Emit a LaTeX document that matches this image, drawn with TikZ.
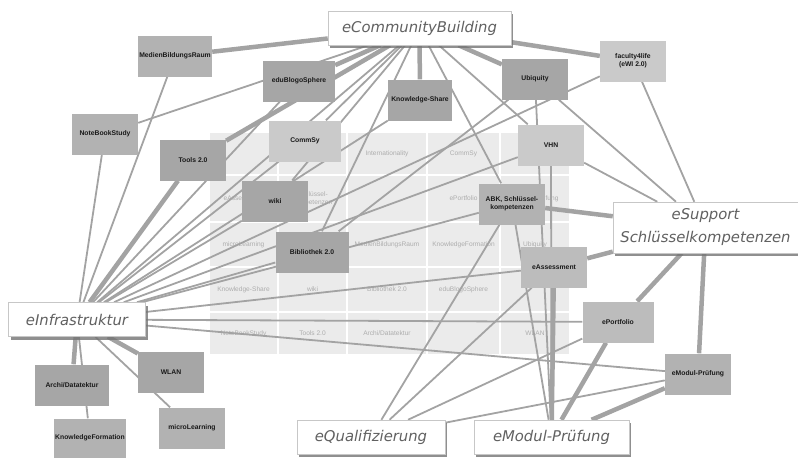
\documentclass[tikz,border=0pt]{standalone}
\usepackage{fontspec}
\usetikzlibrary{shadows}
\newfontfamily\topicfamily{DejaVu Sans}
\newfontfamily\projfamily{Liberation Sans}
\newcommand{\topicfont}{\topicfamily\itshape\fontsize{14.8}{23}\selectfont}
\newcommand{\projfont}{\projfamily\bfseries\fontsize{6.8}{7.8}\selectfont}
\newcommand{\cellfont}{\projfamily\fontsize{6.6}{7.6}\selectfont}
\definecolor{linegray}{HTML}{A3A3A3}
\definecolor{darkbox}{HTML}{A6A6A6}
\definecolor{midbox}{HTML}{B2B2B2}
\definecolor{palebox}{HTML}{BCBCBC}
\definecolor{lightbox}{HTML}{CACACA}
\definecolor{cellgray}{HTML}{EBEBEB}
\pgfdeclarelayer{grid}
\pgfdeclarelayer{links}
\pgfsetlayers{grid,links,main}
\tikzset{
	topic/.style={draw=black!22,line width=0.5pt,fill=white,font=\topicfont,text=black!62,minimum height=34pt,inner sep=0pt,align=center,drop shadow={shadow xshift=2pt,shadow yshift=-3pt,fill=black!55,opacity=0.8}},
	project/.style={fill=#1,font=\projfont,text=black!90,minimum width=66pt,minimum height=41pt,inner sep=0pt,align=center},
	weaklink/.style={draw=linegray,line width=1.8pt},
	stronglink/.style={draw=linegray,line width=4.5pt},
	cell/.style={fill=cellgray},
	celltext/.style={font=\cellfont,text=black!32,align=center}
}
\begin{document}
\begin{tikzpicture}[x=1pt,y=-1pt]
			\useasboundingbox (0,0) rectangle (798,458);
			\node[topic,minimum width=183pt] (ECommunity) at (419.5,28) {eCommunityBuilding};
			\node[topic,minimum width=185pt,minimum height=51pt] (ESupport) at (705.5,227.5) {eSupport\\Schlüsselkompetenzen};
			\node[topic,minimum width=137pt] (EInfra) at (77,319.5) {eInfrastruktur};
			\node[topic,minimum width=148pt] (EQuali) at (371,437) {eQualifizierung};
			\node[topic,minimum width=155pt] (EModul) at (551.5,437) {eModul-Prüfung};
			
			\node[project=midbox,minimum width=74pt] (MedienRaum) at (175,56) {MedienBildungsRaum};
			\node[project=darkbox,minimum width=72pt] (EduBlogo) at (299,81) {eduBlogoSphere};
			\node[project=darkbox,minimum width=64pt] (KnowShare) at (420,100) {Knowledge-Share};
			\node[project=darkbox] (Ubiquity) at (535,79) {Ubiquity};
			\node[project=lightbox] (Faculty) at (633,61) {faculty4life\\(eWI 2.0)};
			\node[project=midbox] (NoteBook) at (105,134) {NoteBookStudy};
			\node[project=darkbox] (Tools) at (193,160) {Tools 2.0};
			\node[project=lightbox,minimum width=72pt] (CommSy) at (305,141) {CommSy};
			\node[project=lightbox] (VHN) at (551,145) {VHN};
			\node[project=darkbox] (Wiki) at (275,201) {wiki};
			\node[project=midbox] (ABK) at (512,204) {ABK, Schlüssel-\\kompetenzen};
			\node[project=darkbox,minimum width=73pt] (Bibliothek) at (312,252) {Bibliothek 2.0};
			\node[project=palebox] (EAssess) at (554,267) {eAssessment};
			\node[project=palebox,minimum width=71pt] (EPortfolio) at (618,322) {ePortfolio};
			\node[project=midbox] (EModulSub) at (698,374) {eModul-Prüfung};
			\node[project=darkbox,minimum width=74pt] (Archi) at (72,385) {Archi/Datatektur};
			\node[project=darkbox] (WLAN) at (171,372) {WLAN};
			\node[project=midbox,minimum width=72pt,minimum height=39pt] (KnowForm) at (90,438) {KnowledgeFormation};
			\node[project=midbox] (MicroLearn) at (192,428) {microLearning};
			
			\begin{pgfonlayer}{grid}
				\foreach \xa/\xb in {209/278,278/347,347/427,427/500,500/570}
					\foreach \ya/\yb in {132/175,175/222,222/267,267/312,312/355}
						\fill[cell] (\xa+1,\ya+1) rectangle (\xb-1,\yb-1);
				\foreach \cx/\cy/\ctext [count=\k] in {387/153.5/Internationality,463.5/153.5/CommSy,
					243.5/198.5/eAssessment,312.5/198.5/{Schlüssel-\\kompetenzen},463.5/198.5/ePortfolio,535/198.5/eModul-Prüfung,
					243.5/244.5/microLearning,387/244.5/MedienBildungsRaum,463.5/244.5/KnowledgeFormation,535/244.5/Ubiquity,
					243.5/289.5/Knowledge-Share,312.5/289.5/wiki,387/289.5/Bibliothek 2.0,463.5/289.5/eduBlogoSphere,
					243.5/333.5/NoteBookStudy,312.5/333.5/Tools 2.0,387/333.5/{Archi/Datatektur},535/333.5/WLAN}
					\node[celltext] (Cell\k) at (\cx,\cy) {\ctext};
			\end{pgfonlayer}
			
			\begin{pgfonlayer}{links}
				\draw[stronglink] (ECommunity) to (MedienRaum);
				\draw[stronglink] (ECommunity) to (EduBlogo);
				\draw[stronglink] (ECommunity) to (Tools);
				\draw[stronglink] (ECommunity) to (KnowShare);
				\draw[stronglink] (ECommunity) to (Ubiquity);
				\draw[stronglink] (ECommunity) to (Faculty);
				\draw[weaklink] (ECommunity) to (NoteBook);
				\draw[weaklink] (ECommunity) to (CommSy);
				\draw[weaklink] (ECommunity) to (Wiki);
				\draw[weaklink] (ECommunity) to (Bibliothek);
				\draw[weaklink] (ECommunity) to (EInfra);
				\draw[weaklink] (ECommunity) to (ABK);
				\draw[weaklink] (ECommunity) to (VHN);
				
				\draw[stronglink] (EInfra) to (Tools);
				\draw[stronglink] (EInfra) to (Archi);
				\draw[stronglink] (EInfra) to (WLAN);
				\draw[weaklink] (EInfra) to (NoteBook);
				\draw[weaklink] (EInfra) to (MedienRaum);
				\draw[weaklink] (EInfra) to (EduBlogo);
				\draw[weaklink] (EInfra) to (CommSy);
				\draw[weaklink] (EInfra) to (Wiki);
				\draw[weaklink] (EInfra) to (Bibliothek);
				\draw[weaklink] (EInfra) to (KnowShare);
				\draw[weaklink] (EInfra) to (ABK);
				\draw[weaklink] (EInfra) to (VHN);
				\draw[weaklink] (EInfra) to (Faculty);
				\draw[weaklink] (EInfra) to (EAssess);
				\draw[weaklink] (EInfra) to (EPortfolio);
				\draw[weaklink] (EInfra) to (EModulSub);
				\draw[weaklink] (EInfra) to (KnowForm);
				\draw[weaklink] (EInfra) to (MicroLearn);
				
				\draw[stronglink] (ESupport) to (ABK);
				\draw[stronglink] (ESupport) to (EAssess);
				\draw[stronglink] (ESupport) to (EPortfolio);
				\draw[stronglink] (ESupport) to (EModulSub);
				\draw[weaklink] (ESupport) to (Ubiquity);
				\draw[weaklink] (ESupport) to (Faculty);
				\draw[weaklink] (ESupport) to (VHN);
				
				\draw[stronglink] (EModul) to (EAssess);
				\draw[stronglink] (EModul) to (EPortfolio);
				\draw[stronglink] (EModul) to (EModulSub);
				\draw[weaklink] (EModul) to (Ubiquity);
				\draw[weaklink] (EModul) to (VHN);
				\draw[weaklink] (EModul) to (ABK);
				\draw[weaklink] (Ubiquity) to (Bibliothek);
				
				\draw[weaklink] (EQuali) to (ABK);
				\draw[weaklink] (EQuali) to (EAssess);
				\draw[weaklink] (EQuali) to (EPortfolio);
				\draw[weaklink] (EQuali) to (EModulSub);
			\end{pgfonlayer}
\end{tikzpicture}
\end{document}
